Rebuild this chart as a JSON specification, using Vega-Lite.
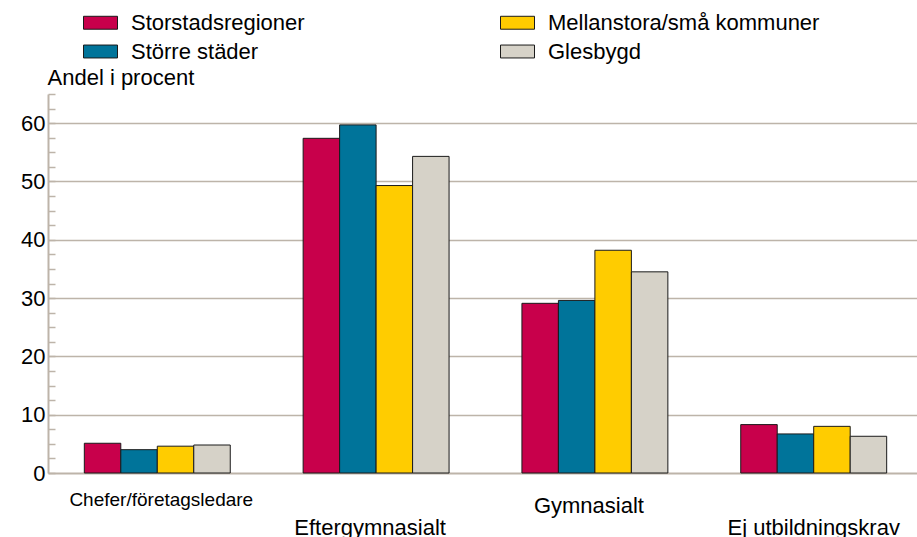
{
  "$schema": "https://vega.github.io/schema/vega-lite/v6.json",
  "width": 869,
  "height": 379,
  "autosize": {"type": "none"},
  "padding": {"left": 48, "top": 94, "right": 0, "bottom": 64},
  "background": "white",
  "config": {"view": {"stroke": null}, "font": "Liberation Sans"},
  "data": {"values": [
    {"kategori": "Chefer/företagsledare", "region": "Storstadsregioner", "andel": 5.1},
    {"kategori": "Chefer/företagsledare", "region": "Större städer", "andel": 4.0},
    {"kategori": "Chefer/företagsledare", "region": "Mellanstora/små kommuner", "andel": 4.6},
    {"kategori": "Chefer/företagsledare", "region": "Glesbygd", "andel": 4.8},
    {"kategori": "Eftergymnasialt", "region": "Storstadsregioner", "andel": 57.4},
    {"kategori": "Eftergymnasialt", "region": "Större städer", "andel": 59.7},
    {"kategori": "Eftergymnasialt", "region": "Mellanstora/små kommuner", "andel": 49.3},
    {"kategori": "Eftergymnasialt", "region": "Glesbygd", "andel": 54.3},
    {"kategori": "Gymnasialt", "region": "Storstadsregioner", "andel": 29.1},
    {"kategori": "Gymnasialt", "region": "Större städer", "andel": 29.6},
    {"kategori": "Gymnasialt", "region": "Mellanstora/små kommuner", "andel": 38.2},
    {"kategori": "Gymnasialt", "region": "Glesbygd", "andel": 34.5},
    {"kategori": "Ej utbildningskrav", "region": "Storstadsregioner", "andel": 8.3},
    {"kategori": "Ej utbildningskrav", "region": "Större städer", "andel": 6.7},
    {"kategori": "Ej utbildningskrav", "region": "Mellanstora/små kommuner", "andel": 8.0},
    {"kategori": "Ej utbildningskrav", "region": "Glesbygd", "andel": 6.3}
  ]},
  "mark": {"type": "bar", "stroke": "#1a1a1a", "strokeWidth": 1},
  "encoding": {
    "x": {
      "field": "kategori", "type": "nominal",
      "sort": ["Chefer/företagsledare", "Eftergymnasialt", "Gymnasialt", "Ej utbildningskrav"],
      "scale": {"range": [0, 875], "paddingInner": 0.333, "paddingOuter": 0.166},
      "axis": {
        "title": null, "labelAngle": 0, "ticks": false, "tickSize": 0,
        "domainColor": "#BDB4A9", "domainWidth": 2, "grid": false,
        "labelBaseline": "alphabetic", "labelColor": "black", "labelLimit": 400,
        "labelFontSize": {"condition": {"test": "datum.value === 'Chefer/företagsledare'", "value": 19}, "value": 22},
        "labelPadding": {"condition": [
          {"test": "datum.value === 'Eftergymnasialt' || datum.value === 'Ej utbildningskrav'", "value": 61},
          {"test": "datum.value === 'Gymnasialt'", "value": 39}
        ], "value": 32},
        "labelOffset": {"condition": [
          {"test": "datum.value === 'Eftergymnasialt' || datum.value === 'Gymnasialt'", "value": -6},
          {"test": "datum.value === 'Chefer/företagsledare'", "value": 4}
        ], "value": 0},
        "labelOverlap": false
      }
    },
    "xOffset": {
      "field": "region", "type": "nominal",
      "scale": {"domain": ["Storstadsregioner", "Större städer", "Mellanstora/små kommuner", "Glesbygd"], "paddingInner": 0, "paddingOuter": 0}
    },
    "y": {
      "field": "andel", "type": "quantitative",
      "scale": {"domain": [0, 65], "nice": false},
      "axis": {
        "title": "Andel i procent",
        "values": [0, 2.5, 5, 7.5, 10, 12.5, 15, 17.5, 20, 22.5, 25, 27.5, 30, 32.5, 35, 37.5, 40, 42.5, 45, 47.5, 50, 52.5, 55, 57.5, 60, 62.5, 65],
        "labelExpr": "datum.value % 10 === 0 ? datum.label : ''",
        "tickSize": -7, "tickColor": "#BDB4A9", "tickWidth": 1.5,
        "domainColor": "#BDB4A9", "domainWidth": 2,
        "grid": true, "gridColor": "#BDB4A9", "gridWidth": 1.5,
        "gridOpacity": {"condition": {"test": "datum.value % 10 === 0 && datum.value > 0", "value": 1}, "value": 0},
        "labelFontSize": 22, "labelPadding": 10, "labelColor": "black",
        "labelFlush": false, "labelOverlap": false,
        "titleAngle": 0, "titleAlign": "left", "titleBaseline": "alphabetic",
        "titleX": -1, "titleY": -10, "titleFontSize": 22, "titleFontWeight": "normal", "titleColor": "black"
      }
    },
    "color": {
      "field": "region", "type": "nominal",
      "scale": {
        "domain": ["Storstadsregioner", "Större städer", "Mellanstora/små kommuner", "Glesbygd"],
        "range": ["#C8004B", "#00749A", "#FFCC00", "#D6D2C8"]
      },
      "legend": {
        "title": null, "orient": "none", "legendX": 35, "legendY": -89,
        "columns": 2, "columnPadding": 193, "rowPadding": -5, "padding": 0,
        "symbolType": "M-1,-0.38H1V0.38H-1Z", "symbolSize": 1156,
        "symbolStrokeColor": "#1a1a1a", "symbolStrokeWidth": 1, "symbolOpacity": 1,
        "labelFontSize": 22, "labelOffset": 13, "labelColor": "black", "labelLimit": 500
      }
    }
  }
}
